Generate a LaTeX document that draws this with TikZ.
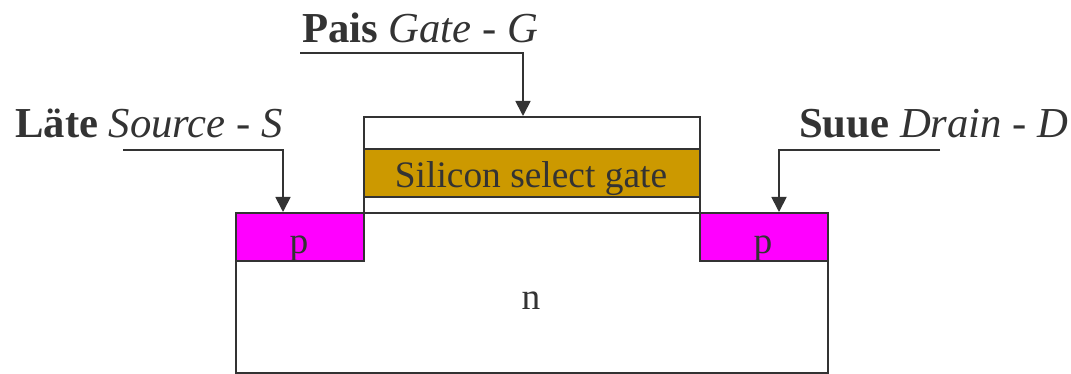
\documentclass[tikz,border=0pt]{standalone}
\usepackage{fontspec}
\setmainfont{Liberation Serif}
\usetikzlibrary{arrows.meta}
\definecolor{lc}{HTML}{333333}
\definecolor{mag}{HTML}{FF00FF}
\definecolor{gold}{HTML}{CC9900}
\tikzset{
 box/.style={draw=lc,line width=2pt,inner sep=0pt,outer sep=0pt,anchor=north west},
 lab/.style={text=lc,inner sep=0pt,anchor=base west,font=\fontsize{42.7}{46}\selectfont},
 inner/.style={text=lc,inner sep=0pt,anchor=base,font=\fontsize{37.4}{40}\selectfont},
 arr/.style={draw=lc,line width=1.8pt,-{Triangle[length=15pt,width=15pt]}}}
\begin{document}
\begin{tikzpicture}[x=1pt,y=-1pt]
\useasboundingbox (0,0) rectangle (1071,374);
\node[box,minimum width=592pt,minimum height=160pt] (sub) at (235.5,213) {};
\node[box,fill=mag,minimum width=128pt,minimum height=48pt] (ps) at (235.5,213) {};
\node[box,fill=mag,minimum width=128pt,minimum height=48pt] (pd) at (699.5,213) {};
\node[box,minimum width=336pt,minimum height=96pt] (gt) at (363.5,117) {};
\node[box,fill=gold,minimum width=336pt,minimum height=48pt] (si) at (363.5,149.5) {};
\node[inner] (silabel) at (531,188) {Silicon select gate};
\node[inner] (pl) at (299,254) {p};
\node[inner] (pr) at (763,254) {p};
\node[inner] (nl) at (531,309) {n};
\node[lab] (gl) at (302,43) {\textbf{Pais} \textit{Gate - G}};
\node[lab] (sl) at (15,138) {\textbf{Läte} \textit{Source - S}};
\node[lab] (dl) at (799,138) {\textbf{Suue} \textit{Drain - D}};
\coordinate (g0) at (300,53);
\coordinate (s0) at (123,150);
\coordinate (d0) at (940,150);
\coordinate (g1) at (523,116);
\coordinate (s1) at (283,212);
\coordinate (d1) at (779,212);
\draw[arr] (g0) -| (g1);
\draw[arr] (s0) -| (s1);
\draw[arr] (d0) -| (d1);
\end{tikzpicture}
\end{document}
